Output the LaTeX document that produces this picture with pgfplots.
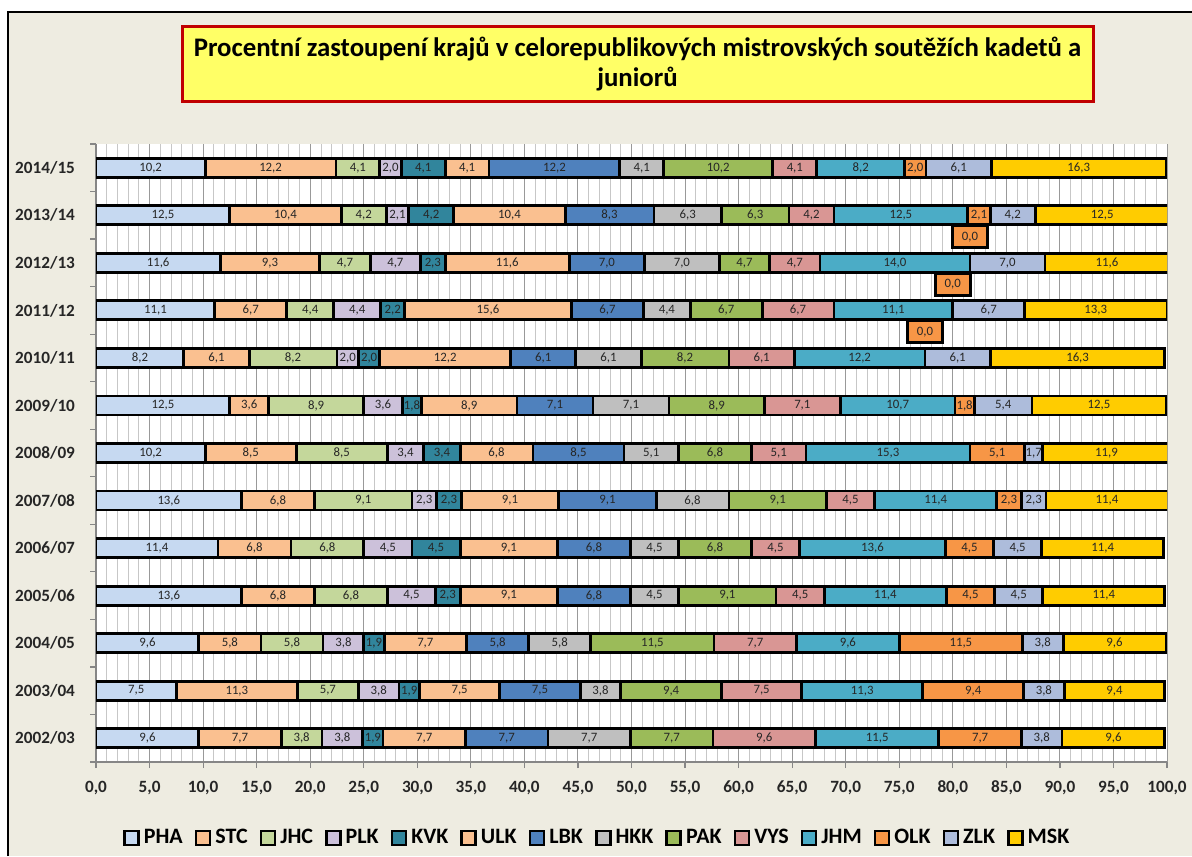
\documentclass[border=0pt]{standalone}
\usepackage{pgfplots}
\pgfplotsset{compat=1.18}
\usepackage{pgfplotstable}
\usepackage{fontspec}
\setmainfont{Carlito}

\definecolor{bg}{HTML}{EEECE1}
\definecolor{axgray}{HTML}{868686}
\definecolor{titleyellow}{HTML}{FFFF66}
\definecolor{titlered}{HTML}{C00000}
\definecolor{pha}{HTML}{C6D9F1}
\definecolor{stc}{HTML}{FAC090}
\definecolor{jhc}{HTML}{C4D79B}
\definecolor{plk}{HTML}{CCC1DA}
\definecolor{kvk}{HTML}{31859C}
\definecolor{ulk}{HTML}{FAC090}
\definecolor{lbk}{HTML}{4F81BD}
\definecolor{hkk}{HTML}{BFBFBF}
\definecolor{pak}{HTML}{9BBB59}
\definecolor{vys}{HTML}{D99694}
\definecolor{jhm}{HTML}{4BACC6}
\definecolor{olk}{HTML}{F79646}
\definecolor{zlk}{HTML}{ADBCDB}
\definecolor{msk}{HTML}{FFCC00}

% rows: 0 = 2002/03 ... 12 = 2014/15
\pgfplotstableread{
y  PHA  STC  JHC PLK KVK ULK  LBK  HKK PAK  VYS JHM  OLK  ZLK MSK
0  9.6  7.7  3.8 3.8 1.9 7.7  7.7  7.7 7.7  9.6 11.5 7.7  3.8 9.6
1  7.5  11.3 5.7 3.8 1.9 7.5  7.5  3.8 9.4  7.5 11.3 9.4  3.8 9.4
2  9.6  5.8  5.8 3.8 1.9 7.7  5.8  5.8 11.5 7.7 9.6  11.5 3.8 9.6
3  13.6 6.8  6.8 4.5 2.3 9.1  6.8  4.5 9.1  4.5 11.4 4.5  4.5 11.4
4  11.4 6.8  6.8 4.5 4.5 9.1  6.8  4.5 6.8  4.5 13.6 4.5  4.5 11.4
5  13.6 6.8  9.1 2.3 2.3 9.1  9.1  6.8 9.1  4.5 11.4 2.3  2.3 11.4
6  10.2 8.5  8.5 3.4 3.4 6.8  8.5  5.1 6.8  5.1 15.3 5.1  1.7 11.9
7  12.5 3.6  8.9 3.6 1.8 8.9  7.1  7.1 8.9  7.1 10.7 1.8  5.4 12.5
8  8.2  6.1  8.2 2.0 2.0 12.2 6.1  6.1 8.2  6.1 12.2 0.0  6.1 16.3
9  11.1 6.7  4.4 4.4 2.2 15.6 6.7  4.4 6.7  6.7 11.1 0.0  6.7 13.3
10 11.6 9.3  4.7 4.7 2.3 11.6 7.0  7.0 4.7  4.7 14.0 0.0  7.0 11.6
11 12.5 10.4 4.2 2.1 4.2 10.4 8.3  6.3 6.3  4.2 12.5 2.1  4.2 12.5
12 10.2 12.2 4.1 2.0 4.1 4.1  12.2 4.1 10.2 4.1 8.2  2.0  6.1 16.3
}\data

% running sums (s...) and segment centres (m...) for the value labels
\pgfplotstablecreatecol[create col/expr={0}]{s0}{\data}
\newcommand\addmid[2]{%
  \pgfplotstablecreatecol[create col/expr={\thisrow{#2}+0.5*\thisrow{#1}}]{m#1}{\data}%
  \pgfplotstablecreatecol[create col/expr={\thisrow{#2}+\thisrow{#1}}]{s#1}{\data}}
\addmid{PHA}{s0}\addmid{STC}{sPHA}\addmid{JHC}{sSTC}\addmid{PLK}{sJHC}
\addmid{KVK}{sPLK}\addmid{ULK}{sKVK}\addmid{LBK}{sULK}\addmid{HKK}{sLBK}
\addmid{PAK}{sHKK}\addmid{VYS}{sPAK}\addmid{JHM}{sVYS}\addmid{OLK}{sJHM}
\addmid{ZLK}{sOLK}\addmid{MSK}{sZLK}

% OLK zero labels: start of the (empty) OLK segment, half a row higher
\pgfplotstableread{
x    y
77.4 8.55
80.0 9.55
81.6 10.55
}\olkzero

\pgfplotsset{frame/.style={
    at={(48pt,47pt)}, anchor=south west,
    scale only axis, width=535.5pt, height=309pt,
    xmin=0, xmax=100, ymin=-0.5, ymax=12.5}}

\newcommand\lbl[1]{\addplot[draw=none, mark=none] table[x=m#1, y=y, meta=#1] {\data};}

\begin{document}
\begin{tikzpicture}
\useasboundingbox (0,0) rectangle (596pt,428pt);
\fill[white] (0,0) rectangle (596pt,428pt);
\fill[bg] (4pt,0) rectangle (596pt,422pt);
\draw[black, line width=1.2pt] (4pt,0) -- (4pt,422pt) -- (596pt,422pt);

\begin{axis}[
    frame,
    xbar stacked, bar width=9.5pt,
    axis x line*=bottom, axis y line*=left,
    axis line style={draw=axgray, line width=0.6pt},
    axis background/.style={fill=white},
    xtick={0,5,...,100}, minor x tick num=4,
    xmajorgrids, xminorgrids,
    major grid style={draw=black!40, line width=0.5pt},
    minor grid style={draw=black!22, line width=0.4pt},
    tick align=outside, major tick length=3pt, minor tick length=0pt,
    tick style={draw=axgray, line width=0.6pt},
    ytick={-0.5,0.5,...,12.5},
    yticklabels={2002/03,2003/04,2004/05,2005/06,2006/07,2007/08,2008/09,2009/10,2010/11,2011/12,2012/13,2013/14,2014/15,{}},
    yticklabel style={yshift=11.88pt, xshift=-4pt},
    /pgf/number format/assume math mode=true,
    xticklabel style={yshift=-3pt, /pgf/number format/.cd, fixed, fixed zerofill, precision=1, use comma},
    ticklabel style={font=\bfseries\fontsize{8.6}{10}\selectfont, text=black!85},
    every axis plot/.append style={draw=black, line width=1.4pt},
    legend columns=14,
    legend style={at={(axis description cs:0.469,-0.123)}, anchor=center,
        draw=none, fill=none, font=\bfseries\fontsize{11}{13}\selectfont,
        /tikz/every even column/.append style={column sep=4pt}},
    legend image code/.code={\draw[#1, line width=1.3pt] (0pt,-3.5pt) rectangle (7pt,3.5pt);},
]
\addplot[fill=pha] table[x=PHA, y=y] {\data};
\addplot[fill=stc] table[x=STC, y=y] {\data};
\addplot[fill=jhc] table[x=JHC, y=y] {\data};
\addplot[fill=plk] table[x=PLK, y=y] {\data};
\addplot[fill=kvk] table[x=KVK, y=y] {\data};
\addplot[fill=ulk] table[x=ULK, y=y] {\data};
\addplot[fill=lbk] table[x=LBK, y=y] {\data};
\addplot[fill=hkk] table[x=HKK, y=y] {\data};
\addplot[fill=pak] table[x=PAK, y=y] {\data};
\addplot[fill=vys] table[x=VYS, y=y] {\data};
\addplot[fill=jhm] table[x=JHM, y=y] {\data};
\addplot[fill=olk] table[x=OLK, y=y] {\data};
\addplot[fill=zlk] table[x=ZLK, y=y] {\data};
\addplot[fill=msk] table[x=MSK, y=y] {\data};
\legend{PHA,STC,JHC,PLK,KVK,ULK,LBK,HKK,PAK,VYS,JHM,OLK,ZLK,MSK}
\end{axis}

% value labels, centred on each segment
\begin{axis}[frame, hide axis,
    point meta=explicit symbolic,
    nodes near coords={\ifdim\pgfplotspointmeta pt>0pt
        \pgfmathprintnumber[fixed,fixed zerofill,precision=1,use comma,assume math mode=true]{\pgfplotspointmeta}\fi},
    every node near coord/.style={anchor=center, inner sep=0pt,
        font=\fontsize{6.4}{7}\selectfont, text=black!85}]
\lbl{PHA}\lbl{STC}\lbl{JHC}\lbl{PLK}\lbl{KVK}\lbl{ULK}\lbl{LBK}
\lbl{HKK}\lbl{PAK}\lbl{VYS}\lbl{JHM}\lbl{OLK}\lbl{ZLK}\lbl{MSK}
\addplot[draw=none, mark=none, point meta=none, nodes near coords={0,0},
    every node near coord/.style={anchor=center, draw=black, line width=1.5pt, fill=olk,
        minimum width=17.5pt, minimum height=11pt, inner sep=0pt,
        font=\fontsize{6.4}{7}\selectfont, text=black!85}]
    table[x=x, y=y] {\olkzero};
\end{axis}

\node[draw=titlered, line width=1.5pt, fill=titleyellow,
      minimum width=455.5pt, minimum height=37.5pt, align=center,
      font=\bfseries\fontsize{13.4}{15}\selectfont]
  at (318.75pt,395.75pt)
  {Procentní zastoupení krajů v celorepublikových mistrovských soutěžích kadetů a\\juniorů};
\end{tikzpicture}
\end{document}
